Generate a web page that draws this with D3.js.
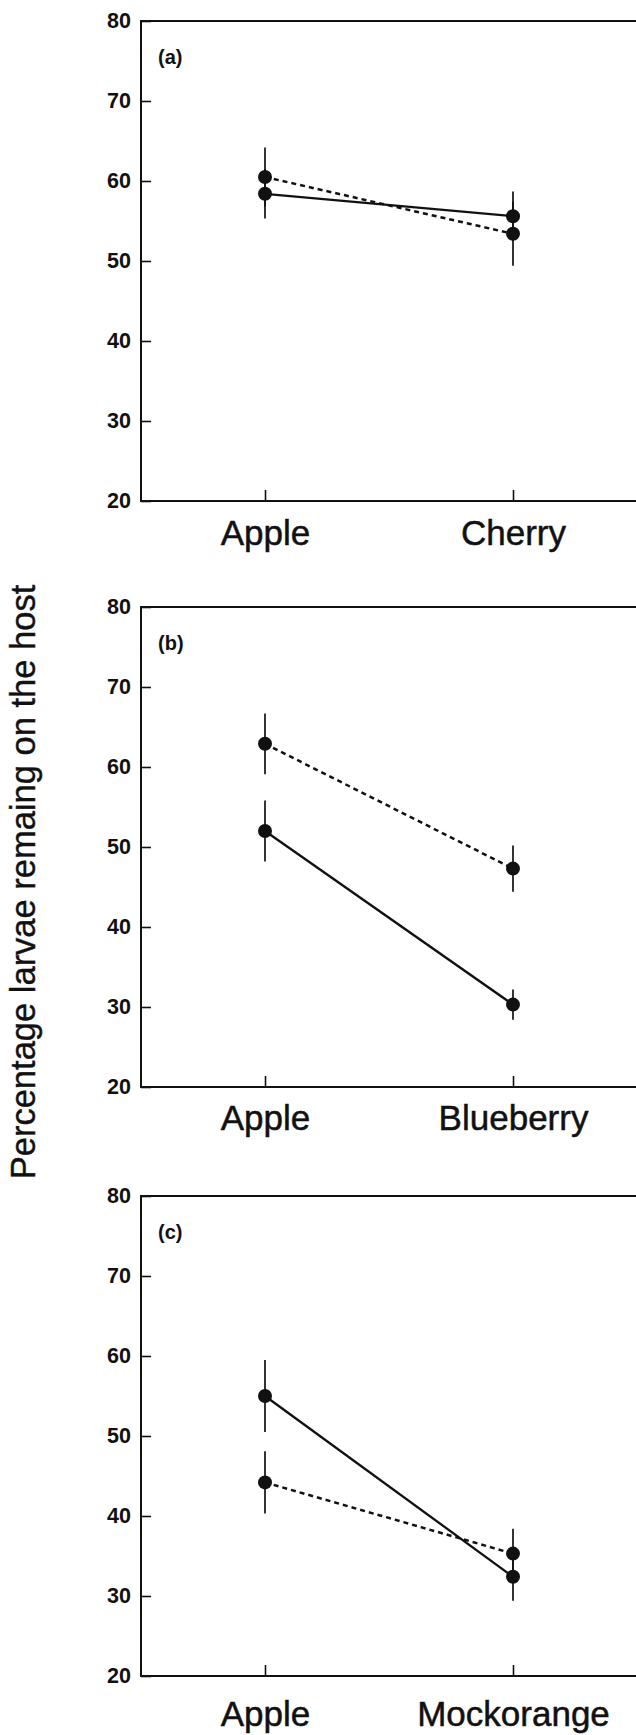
<!DOCTYPE html>
<html>
<head>
<meta charset="utf-8">
<script src="https://cdn.jsdelivr.net/npm/d3@7"></script>
<style>
  body { margin: 0; background: #fff; }
  svg { display: block; }
  text { font-family: "Liberation Sans", Arial, Helvetica, sans-serif; fill: #111; }
</style>
</head>
<body>
<div id="chart"></div>
<script>
// data
const panelLabels = ["(a)", "(b)", "(c)"]
const hostPairs = [["Apple", "Cherry"], ["Apple", "Blueberry"], ["Apple", "Mockorange"]]
const solidMeans = [[58.4, 55.6], [52.0, 30.3], [55.0, 32.4]]
const solidErrors = [[3.1, 3.1], [3.8, 1.9], [4.5, 3.0]]
const dashedMeans = [[60.5, 53.4], [62.9, 47.3], [44.2, 35.3]]
const dashedErrors = [[3.7, 4.0], [3.8, 2.9], [3.9, 3.1]]
const yTicks = [20, 30, 40, 50, 60, 70, 80]
const yTitle = "Percentage larvae remaing on the host"

// props
const width = 636
const height = 1735
const left = 141
const plotWidth = 496
const plotHeight = 480
const panelTops = [21, 607, 1196]
const labelOffsets = [44, 43, 50]

const svg = d3.select("#chart")
  .append("svg")
  .attr("width", width)
  .attr("height", height)

// y title
svg.append("text")
  .attr("transform", `translate(35, 882) rotate(-90)`)
  .attr("text-anchor", "middle")
  .style("font-size", "34.5px")
  .attr("stroke", "#111")
  .attr("stroke-width", 0.4)
  .text(yTitle)

const y = d3.scaleLinear()
  .domain([20, 80])
  .range([plotHeight, 0])

panelLabels.forEach((label, i) => {
  const g = svg.append("g")
    .attr("transform", `translate(${left}, ${panelTops[i]})`)

  const x = d3.scalePoint()
    .domain(hostPairs[i])
    .range([0, plotWidth])
    .padding(0.5)

  // y axis, ticks pointing inward
  const yAxis = g.append("g")
    .call(d3.axisLeft(y).tickValues(yTicks).tickSize(-10).tickSizeOuter(0).tickPadding(10))
  yAxis.select(".domain").remove()
  yAxis.selectAll("line").attr("stroke", "#111").attr("stroke-width", 1.6)
  yAxis.selectAll("text")
    .style("font-size", "21.5px")
    .style("font-weight", "bold")
    .attr("fill", "#111")

  // x axis
  const xAxis = g.append("g")
    .attr("transform", `translate(0, ${plotHeight})`)
    .call(d3.axisBottom(x).tickSize(-11).tickSizeOuter(0))
  xAxis.select(".domain").remove()
  xAxis.selectAll("line").attr("stroke", "#111").attr("stroke-width", 1.6)
  xAxis.selectAll("text")
    .attr("y", labelOffsets[i])
    .attr("dy", 0)
    .style("font-size", "35px")
    .attr("fill", "#111")
    .attr("stroke", "#111")
    .attr("stroke-width", 0.5)

  // frame
  g.append("path")
    .attr("d", `M${plotWidth + 2},0H0V${plotHeight}H${plotWidth + 2}V0`)
    .attr("fill", "none")
    .attr("stroke", "#111")
    .attr("stroke-width", 2)

  g.append("text")
    .attr("x", 17)
    .attr("y", 43)
    .style("font-size", "20px")
    .style("font-weight", "bold")
    .text(label)

  const series = [
    { means: solidMeans[i], errors: solidErrors[i], dash: null, widthLine: 2.3 },
    { means: dashedMeans[i], errors: dashedErrors[i], dash: "5,4", widthLine: 2.5 }
  ]

  series.forEach(s => {
    const points = hostPairs[i].map((host, j) => ({ host, mean: s.means[j], err: s.errors[j] }))

    // error bars
    g.selectAll(null)
      .data(points)
      .enter()
      .append("line")
      .attr("x1", d => x(d.host))
      .attr("x2", d => x(d.host))
      .attr("y1", d => y(d.mean - d.err))
      .attr("y2", d => y(d.mean + d.err))
      .attr("stroke", "#111")
      .attr("stroke-width", 1.7)

    const line = d3.line()
      .x(d => x(d.host))
      .y(d => y(d.mean))

    g.append("path")
      .datum(points)
      .attr("d", line)
      .attr("fill", "none")
      .attr("stroke", "#111")
      .attr("stroke-width", s.widthLine)
      .attr("stroke-dasharray", s.dash)

    g.selectAll(null)
      .data(points)
      .enter()
      .append("circle")
      .attr("cx", d => x(d.host))
      .attr("cy", d => y(d.mean))
      .attr("r", 7)
      .attr("fill", "#111")
  })
})
</script>
</body>
</html>
